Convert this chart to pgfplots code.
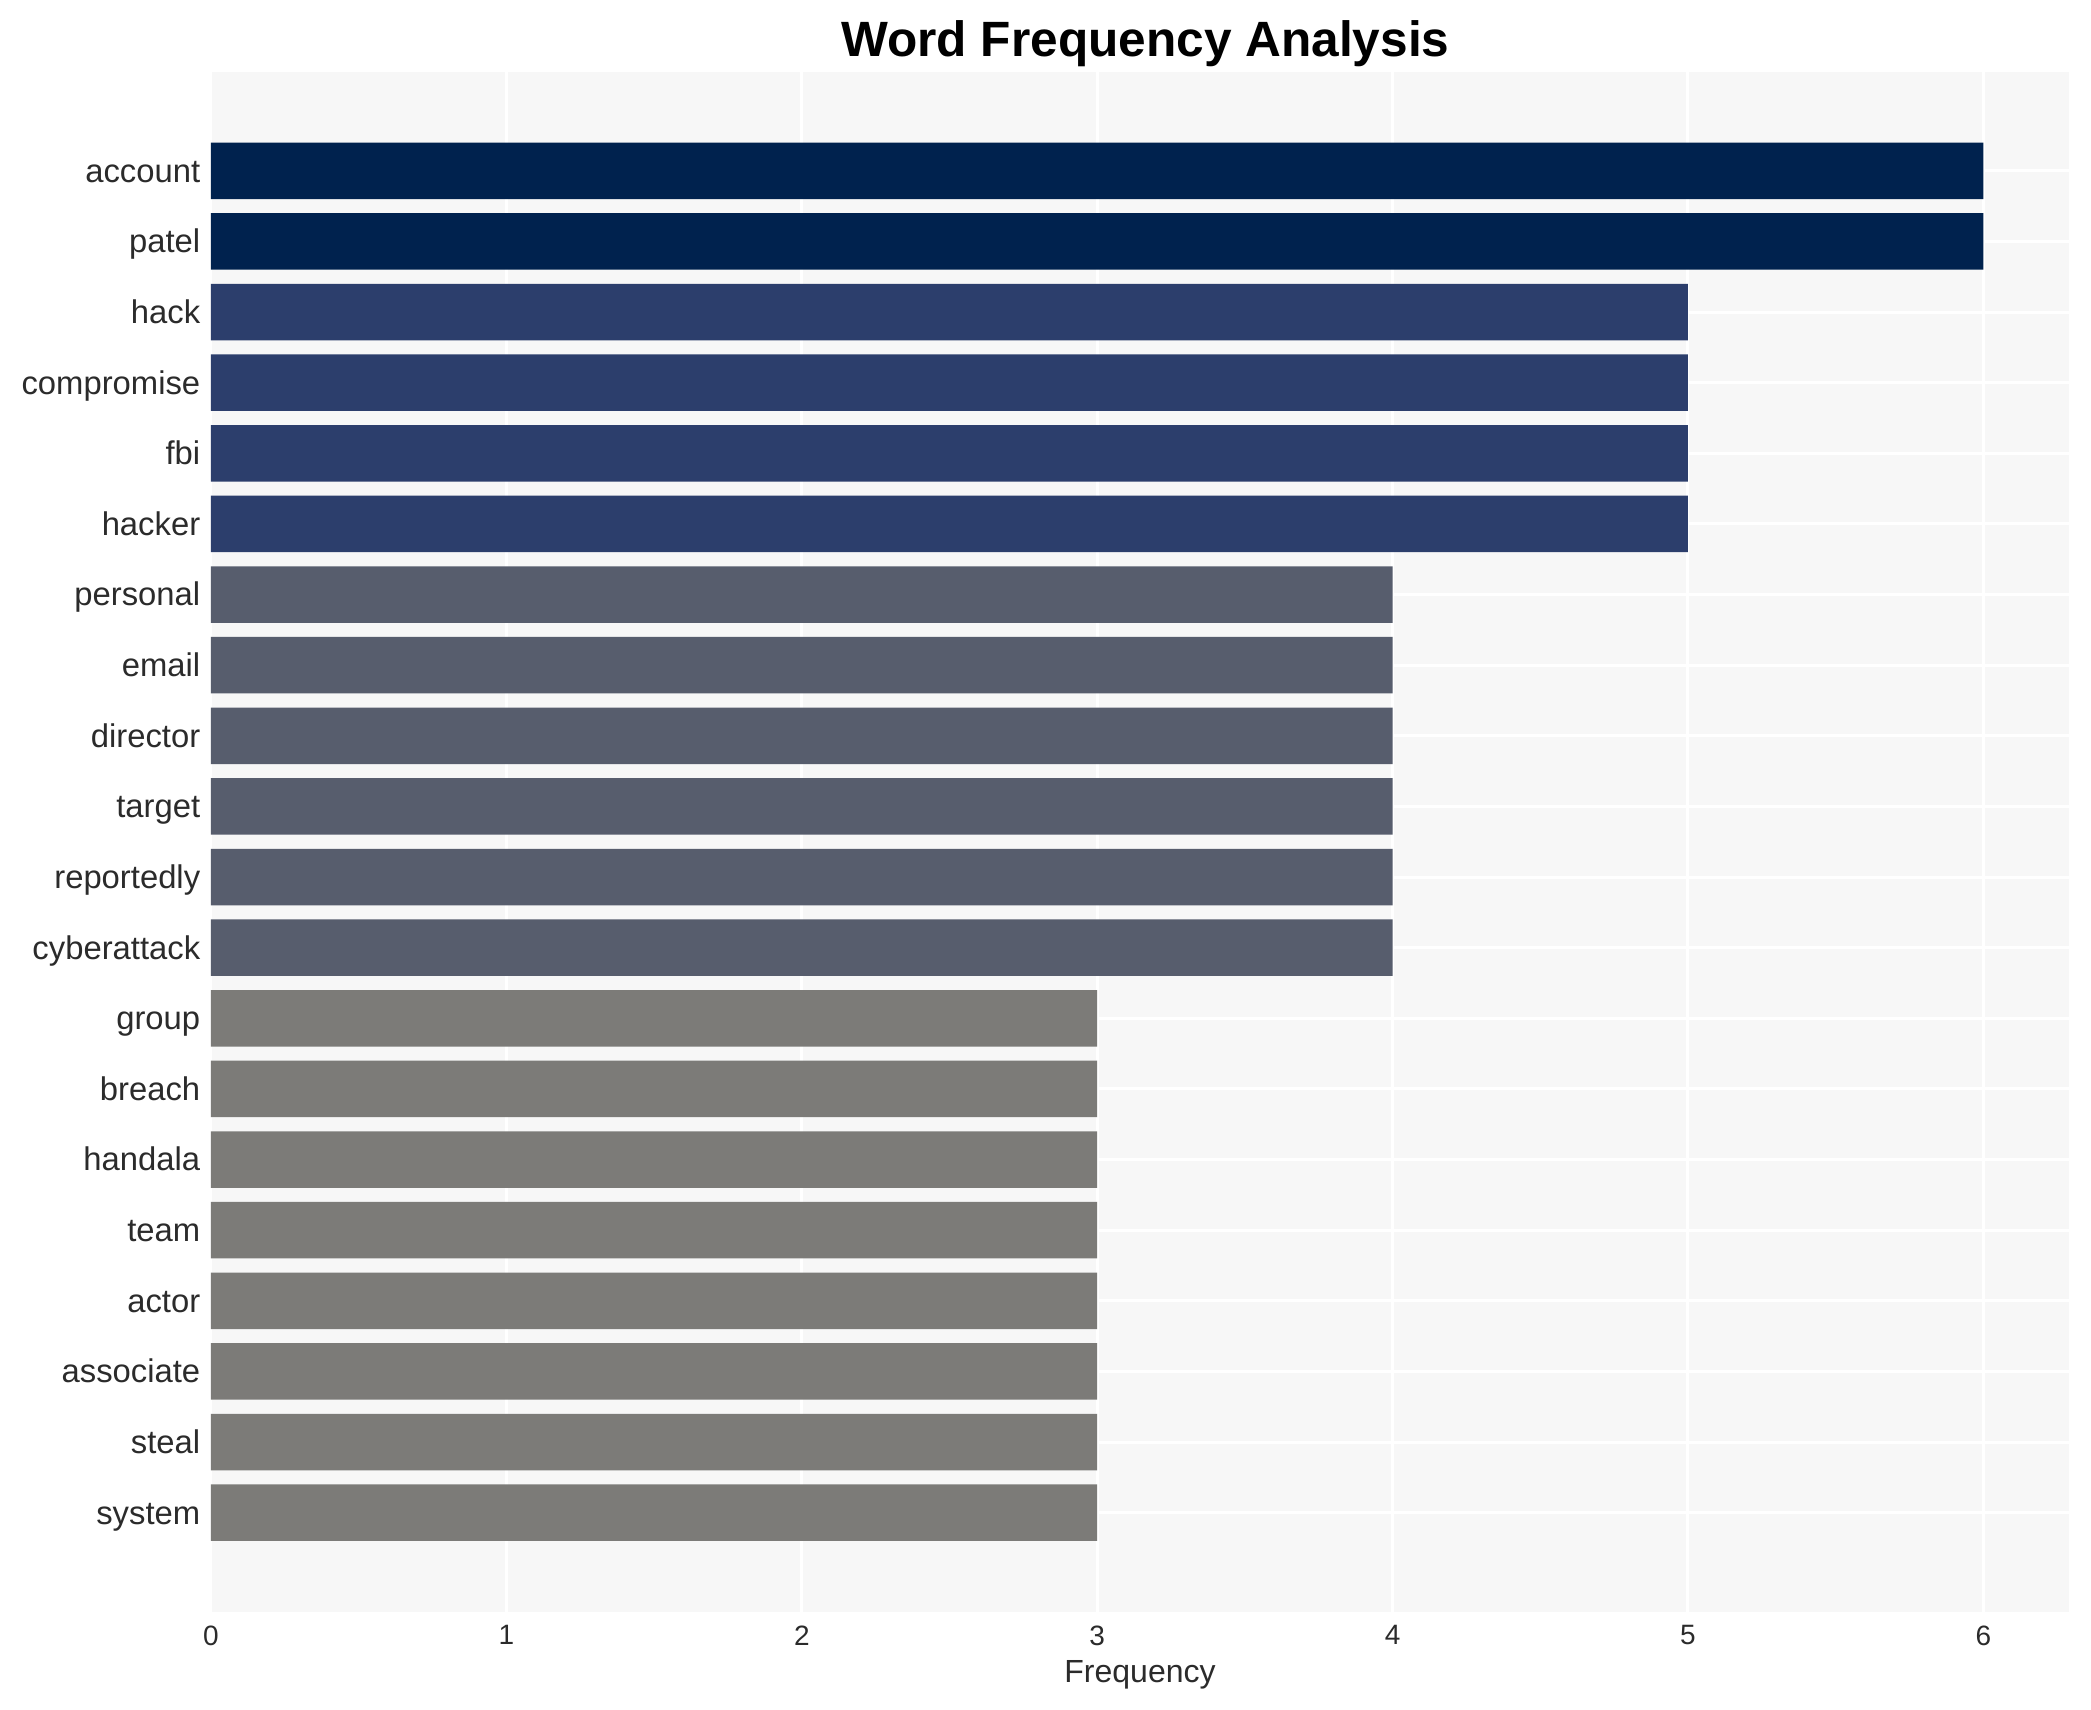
\documentclass[border=0pt]{standalone}
\usepackage{fontspec}
\setmainfont{Liberation Sans}
\usepackage{pgfplots}
\pgfplotsset{compat=1.18}
\definecolor{c1}{HTML}{00224E}
\definecolor{c2}{HTML}{2C3E6C}
\definecolor{c3}{HTML}{575D6D}
\definecolor{c4}{HTML}{7C7B78}
\definecolor{panelbg}{HTML}{F7F7F7}
\definecolor{txt}{HTML}{2B2B2B}
\begin{document}
\begin{tikzpicture}
\useasboundingbox (-52.75pt,-24.6pt) rectangle (470pt,402.9pt);
\begin{axis}[
  at={(0,0)}, anchor=south west,
  scale only axis, width=464.5pt, height=384.9pt,
  xmin=0, xmax=6.29, ymin=-1.4, ymax=20.4,
  xbar, bar width=0.8, bar shift=0pt,
  axis line style={draw=none},
  axis background/.style={fill=panelbg},
  major tick length=0pt,
  xtick={0,...,6}, ytick={0,...,19},
  yticklabels={system,steal,associate,actor,team,handala,breach,group,cyberattack,reportedly,target,director,email,personal,hacker,fbi,compromise,hack,patel,account},
  grid=major, major grid style={white, line width=0.75pt},
  yticklabel style={anchor=base east, inner sep=0pt, xshift=-2.5pt, yshift=-2.85pt, font=\fontsize{8.2}{10}\selectfont, text=txt},
  xticklabel style={anchor=north, inner sep=0pt, yshift=-3.3pt, font=\fontsize{7}{8}\selectfont, text=txt},
  /pgf/number format/assume math mode=true,
  xlabel={Frequency},
  xlabel style={at={(axis description cs:0.5,0)}, anchor=north, yshift=-12pt, inner sep=0pt, font=\fontsize{8}{10}\selectfont, text=txt},
]
\addplot[fill=c1, draw=none] coordinates {(6,19) (6,18)};
\addplot[fill=c2, draw=none] coordinates {(5,17) (5,16) (5,15) (5,14)};
\addplot[fill=c3, draw=none] coordinates {(4,13) (4,12) (4,11) (4,10) (4,9) (4,8)};
\addplot[fill=c4, draw=none] coordinates {(3,7) (3,6) (3,5) (3,4) (3,3) (3,2) (3,1) (3,0)};
\end{axis}
\node[anchor=base, inner sep=0pt, font=\bfseries\fontsize{12.4}{14}\selectfont] at (233.6pt,388.7pt) {Word Frequency Analysis};
\end{tikzpicture}
\end{document}
